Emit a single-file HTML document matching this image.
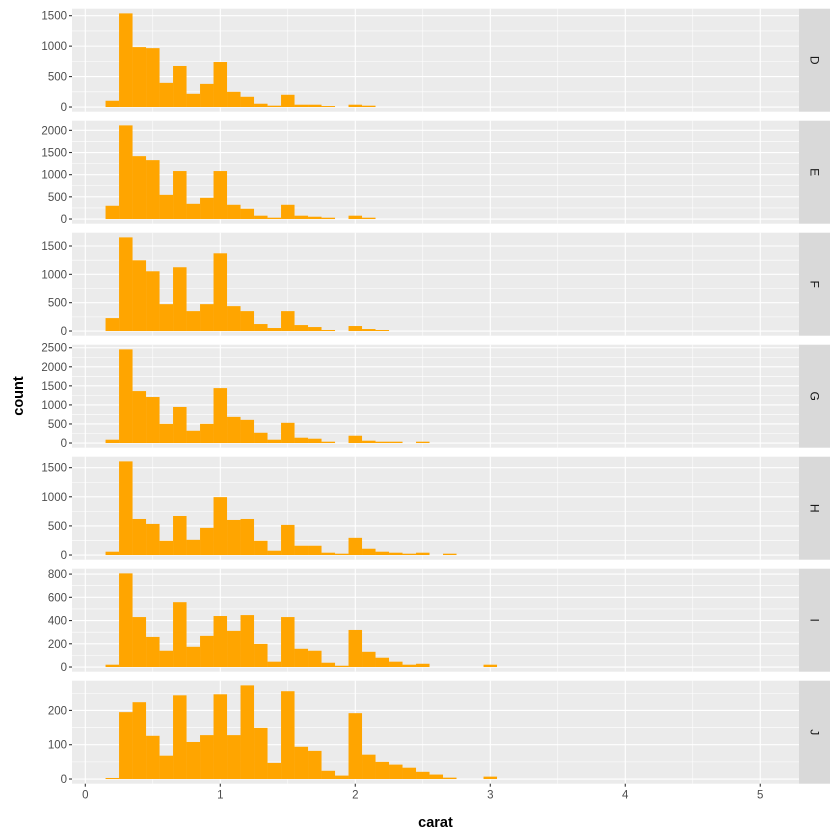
<!DOCTYPE html>
<html><head><meta charset="utf-8"><style>
body{margin:0;background:#fff;}
svg{display:block;font-family:"Liberation Sans",Arial,sans-serif;}
</style></head><body>
<svg id="chart" width="840" height="840" viewBox="0 0 840 840"></svg>
<script>
const facets = ["D","E","F","G","H","I","J"];
const binCenters = [0.2,0.3,0.4,0.5,0.6,0.7,0.8,0.9,1.0,1.1,1.2,1.3,1.4,1.5,1.6,1.7,1.8,1.9,2.0,2.1,2.2,2.3,2.4,2.5,2.6,2.7,2.8,2.9,3.0];
const countsD = [103,1538,984,967,397,674,217,380,739,250,168,54,22,201,38,38,16,0,38,22,0,0,0,0,0,0,0,0,0];
const countsE = [299,2112,1418,1328,545,1082,343,478,1082,321,231,75,30,321,75,52,30,0,75,30,0,0,0,0,0,0,0,0,0];
const countsF = [228,1652,1248,1054,474,1125,351,474,1371,439,351,123,53,351,105,70,18,0,88,35,18,0,0,0,0,0,0,0,0];
const countsG = [87,2457,1363,1207,503,946,321,503,1441,686,608,269,87,530,139,113,35,0,191,61,35,35,0,35,0,0,0,0,0];
const countsH = [57,1608,619,534,244,670,261,466,994,602,619,244,74,517,159,159,40,23,295,108,57,40,23,40,0,23,0,0,0];
const countsI = [20,806,430,259,140,558,174,268,439,311,447,199,46,430,157,140,37,11,319,131,80,46,20,28,0,0,0,0,20];
const countsJ = [3,195,224,126,68,244,108,128,247,128,273,149,47,256,94,82,24,10,192,71,50,42,33,21,13,4,0,0,7];
const yTicksD = [0,500,1000,1500];
const yTicksE = [0,500,1000,1500,2000];
const yTicksF = [0,500,1000,1500];
const yTicksG = [0,500,1000,1500,2000,2500];
const yTicksH = [0,500,1000,1500];
const yTicksI = [0,200,400,600,800];
const yTicksJ = [0,100,200];
const xTicks = [0,1,2,3,4,5];
const binWidth = 0.1;

const allCounts = [countsD,countsE,countsF,countsG,countsH,countsI,countsJ];
const allTicks = [yTicksD,yTicksE,yTicksF,yTicksG,yTicksH,yTicksI,yTicksJ];
const svg = document.getElementById('chart');
const NS = 'http://www.w3.org/2000/svg';
function mk(tag, attrs, parent){const e=document.createElementNS(NS,tag);for(const k in attrs)e.setAttribute(k,attrs[k]);(parent||svg).appendChild(e);return e;}
const PL=72, PR=799, XMIN=-0.0985, XMAX=5.287;
function xs(v){return PL+(v-XMIN)/(XMAX-XMIN)*(PR-PL);}
const PTOP=8.7, PITCH=112, PH=103;

facets.forEach((f,i)=>{
  const top=PTOP+PITCH*i, bot=top+PH;
  const counts=allCounts[i], ticks=allTicks[i];
  const ymax=Math.max(...counts);
  const lo=-0.05*ymax, hi=1.05*ymax;
  const ys=v=>bot-(v-lo)/(hi-lo)*PH;
  const g=mk('g',{});
  
  
  const bg=mk('rect',{x:PL,y:top,width:PR-PL,height:PH,fill:'#EBEBEB'},g);
  
  
  const step=ticks[1]-ticks[0];
  for(let v=step/2; v<hi; v+=step){
    const l=mk('line',{x1:PL,x2:PR,y1:ys(v),y2:ys(v),stroke:'#fff','stroke-width':0.55},g);
     
  }
  for(let v=0.5; v<XMAX; v+=1){
    const l=mk('line',{x1:xs(v),x2:xs(v),y1:top,y2:bot,stroke:'#fff','stroke-width':0.55},g);
     
  }
  ticks.forEach(t=>{
    const l=mk('line',{x1:PL,x2:PR,y1:ys(t),y2:ys(t),stroke:'#fff','stroke-width':1.1},g);
     
    const tk=mk('line',{x1:PL-3,x2:PL,y1:ys(t),y2:ys(t),stroke:'#333','stroke-width':1.1},g);
     
    const tx=mk('text',{x:PL-5,y:ys(t)+4,'text-anchor':'end','font-size':'11.5',fill:'#4D4D4D'},g);
    tx.textContent=t;
     
  });
  xTicks.forEach(t=>{
    const l=mk('line',{x1:xs(t),x2:xs(t),y1:top,y2:bot,stroke:'#fff','stroke-width':1.1},g);
     
  });
  counts.forEach((c,j)=>{
    if(c<=0) return;
    const x0=xs(binCenters[j]-binWidth/2), x1=xs(binCenters[j]+binWidth/2);
    const r=mk('rect',{x:x0,y:ys(c),width:x1-x0,height:ys(0)-ys(c),fill:'#FFA500'},g);
    
    
  });
  const st=mk('rect',{x:PR,y:top,width:31,height:PH,fill:'#D9D9D9'},g);
  
  
  const sx=PR+15.5, sy=top+PH/2;
  const stx=mk('text',{x:sx,y:sy,'text-anchor':'middle','dominant-baseline':'central','font-size':'12',fill:'#1A1A1A',transform:`rotate(90 ${sx} ${sy})`},g);
  stx.textContent=f;
   
});
const lastBot=PTOP+PITCH*6+PH;
xTicks.forEach(t=>{
  const tk=mk('line',{x1:xs(t),x2:xs(t),y1:lastBot,y2:lastBot+3,stroke:'#333','stroke-width':1.1});
   
  const tx=mk('text',{x:xs(t),y:lastBot+15,'text-anchor':'middle','font-size':'11.5',fill:'#4D4D4D'});
  tx.textContent=t;
   
});
const xt=mk('text',{x:(PL+PR)/2,y:827,'text-anchor':'middle','font-size':'14.5','font-weight':'bold',fill:'#000'});
xt.textContent='carat';
 
const yt=mk('text',{x:23,y:396,'text-anchor':'middle','font-size':'14.5','font-weight':'bold',fill:'#000',transform:'rotate(-90 23 396)'});
yt.textContent='count';
 
</script>
</body></html>
